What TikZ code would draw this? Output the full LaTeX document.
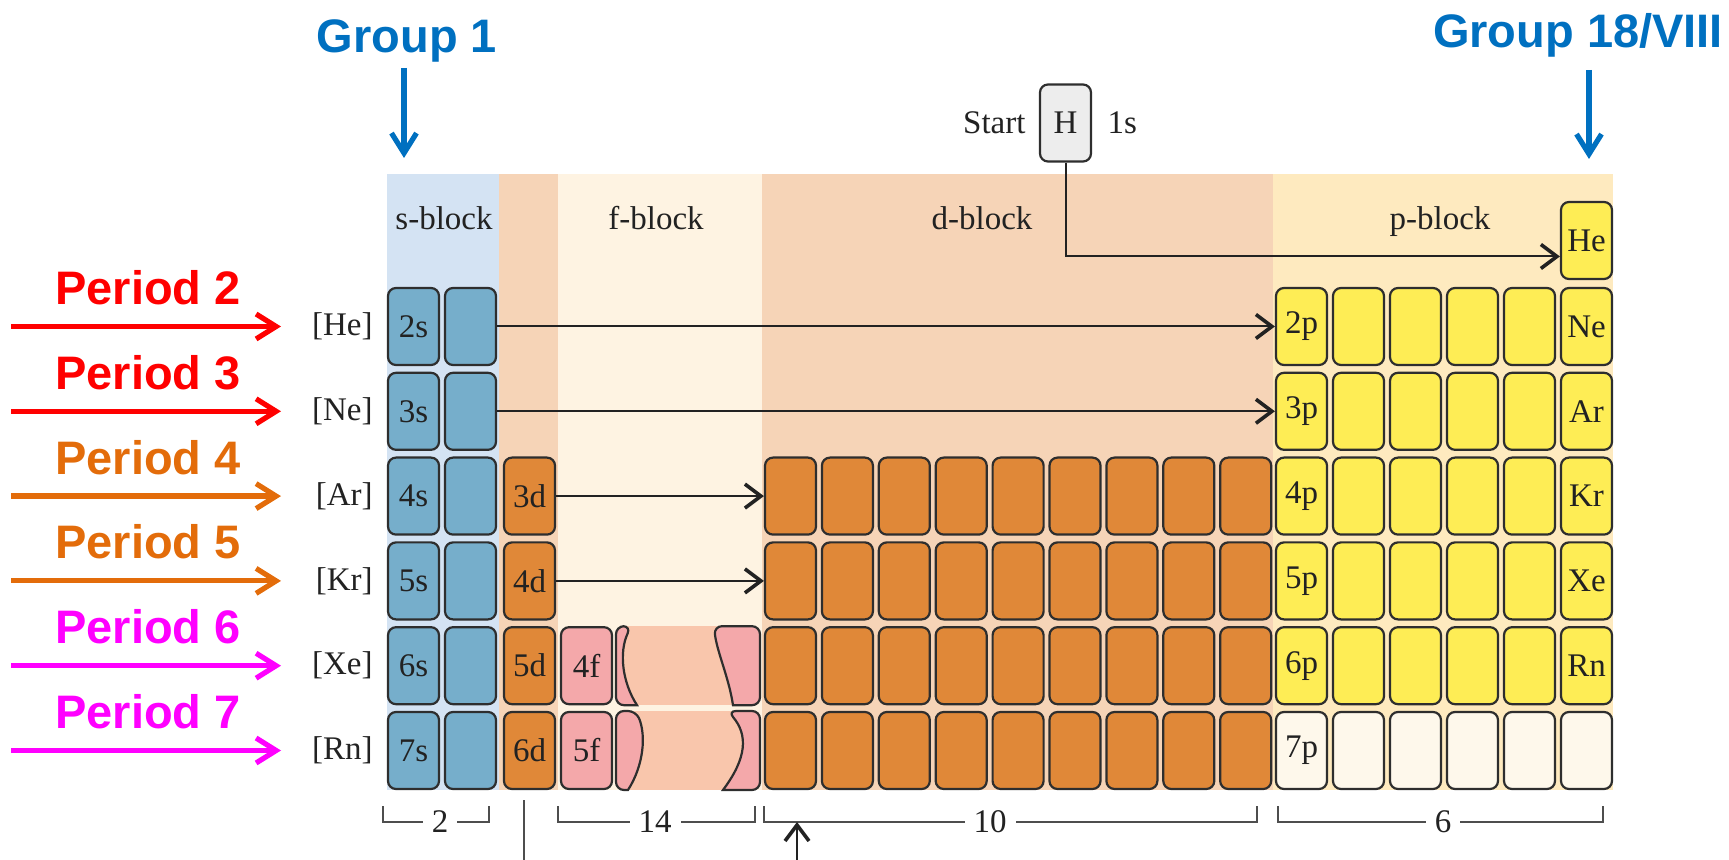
\documentclass[tikz,border=0pt]{standalone}
\usepackage{fontspec}
\setmainfont{Liberation Serif}
\newfontfamily\headfont{Liberation Sans}
\usetikzlibrary{arrows.meta,calc}

\definecolor{sCell}{HTML}{76AECB}
\definecolor{sBack}{HTML}{D4E3F3}
\definecolor{dCell}{HTML}{E08838}
\definecolor{dBack}{HTML}{F6D4B7}
\definecolor{fBack}{HTML}{FEF3E2}
\definecolor{fCell}{HTML}{F4A8AA}
\definecolor{fPeach}{HTML}{F9C6AC}
\definecolor{pCell}{HTML}{FEED55}
\definecolor{pBack}{HTML}{FEEABF}
\definecolor{pEmpty}{HTML}{FEF8EB}
\definecolor{hCell}{HTML}{EDEDED}
\definecolor{edge}{HTML}{2E2E2E}
\definecolor{ink}{HTML}{222222}
\definecolor{groupblue}{HTML}{0070C0}
\definecolor{perred}{HTML}{FF0000}
\definecolor{perorange}{HTML}{E36C0A}
\definecolor{permagenta}{HTML}{FF00FF}

\begin{document}
\begin{tikzpicture}[x=0.5pt,y=-0.5pt,
  cellbox/.style={draw=edge, line width=1.1pt, rounded corners=4pt,
    minimum width=25.5pt, minimum height=38.5pt, inner sep=0pt,
    font=\fontsize{16.5}{19}\selectfont, text=ink},
  scell/.style={cellbox, fill=sCell},
  dcell/.style={cellbox, fill=dCell},
  fcell/.style={cellbox, fill=fCell},
  pcell/.style={cellbox, fill=pCell},
  ecell/.style={cellbox, fill=pEmpty},
  hcell/.style={cellbox, fill=hCell},
  fpiece/.style={draw=edge, line width=1.1pt, fill=fCell},
  serif/.style={font=\fontsize{16.5}{19}\selectfont, text=ink, inner sep=0pt},
  flow/.style={draw=ink, line width=1pt,
    -{Straight Barb[length=8pt,width=12pt,line width=1.8pt]}},
  head/.style={font=\headfont\bfseries\fontsize{23.5}{28}\selectfont, inner sep=0pt},
  bigarrow/.style={line width=2.6pt, -{Straight Barb[length=10pt,width=12.5pt]}},
  bracket/.style={draw=ink!80, line width=0.75pt},
  count/.style={serif, fill=white, inner xsep=4.5pt},
]
\useasboundingbox (0,0) rectangle (1729,860);

% block backgrounds
\fill[sBack] (387,174) rectangle (499,790);
\fill[dBack] (499,174) rectangle (558,790);
\fill[fBack] (558,174) rectangle (762,790);
\fill[dBack] (762,174) rectangle (1273,790);
\fill[pBack] (1273,174) rectangle (1613,790);

% block titles
\node[serif, anchor=base] (sblk) at (444,230) {s-block};
\node[serif, anchor=base] (fblk) at (656,230) {f-block};
\node[serif, anchor=base] (dblk) at (982,230) {d-block};
\node[serif, anchor=base] (pblk) at (1440,230) {p-block};

% hydrogen and helium
\node[hcell] (H) at (1065.5,123) {H};
\node[serif, anchor=east] (start) at ([xshift=-6.5pt]H.west) {Start};
\node[serif, anchor=west] (ones) at ([xshift=7.5pt]H.east) {1s};
\node[pcell] (He) at (1586.5,240.5) {He};

% s-block with noble-gas cores
\foreach \n/\core in {2/He,3/Ne,4/Ar,5/Kr,6/Xe,7/Rn}{
  \pgfmathsetmacro\cy{156.9+84.8*\n}
  \node[serif, anchor=east] (rl\n) at (373,\cy) {[\core]};
  \node[scell] (sa\n) at (413.5,\cy) {\n s};
  \node[scell] (sb\n) at (470.5,\cy) {};
}

% d-block: first column on the left, nine columns after the f-block
\foreach \n in {4,...,7}{
  \pgfmathsetmacro\cy{156.9+84.8*\n}
  \pgfmathtruncatemacro\q{\n-1}
  \node[dcell] (dl\n) at (529.5,\cy) {\q d};
  \foreach \k in {1,...,9}{
    \node[dcell] (d\n-\k) at ({733.6+56.9*\k},\cy) {};
  }
}

% f-block rows, cut short
\foreach \n/\q in {6/4,7/5}{
  \pgfmathsetmacro\cy{156.9+84.8*\n}
  \node[fcell] (f\n) at (586.5,\cy) {\q f};
}
\fill[fPeach] (622,626.2) rectangle (755,705.2);
\fill[fPeach] (622,711) rectangle (755,790);
\path[fpiece] (631,626.2) .. controls (619,652) and (622,682) .. (637,705.2)
  [rounded corners=4pt] -- (616,705.2) -- (616,626.2) -- cycle;
\path[fpiece] (636,711) .. controls (646,735) and (644,765) .. (628,790)
  [rounded corners=4pt] -- (616,790) -- (616,711) -- cycle;
\path[fpiece] (714,626.2) .. controls (717,652) and (729,678) .. (733,705.2)
  [rounded corners=4pt] -- (760,705.2) -- (760,626.2) -- cycle;
\path[fpiece] (728,711) .. controls (748,735) and (747,758) .. (723,790)
  [rounded corners=4pt] -- (760,790) -- (760,711) -- cycle;

% p-block
\foreach \n/\gas in {2/Ne,3/Ar,4/Kr,5/Xe,6/Rn}{
  \pgfmathsetmacro\cy{156.9+84.8*\n}
  \node[pcell] (p\n-1) at (1301.5,\cy) {\n p};
  \foreach \k in {2,...,5}{
    \node[pcell] (p\n-\k) at ({1244.5+57*\k},\cy) {};
  }
  \node[pcell] (p\n-6) at (1586.5,\cy) {\gas};
}
\pgfmathsetmacro\cy{156.9+84.8*7}
\node[ecell] (p7-1) at (1301.5,\cy) {7p};
\foreach \k in {2,...,6}{
  \node[ecell] (p7-\k) at ({1244.5+57*\k},\cy) {};
}

% filling order
\draw[flow] (H.south) |- ([yshift=-8pt]He.west);
\draw[flow] (sb2.east) -- (p2-1.west);
\draw[flow] (sb3.east) -- (p3-1.west);
\draw[flow] (dl4.east) -- (d4-1.west);
\draw[flow] (dl5.east) -- (d5-1.west);

% column counts
\draw[bracket] (383,806) -- (383,822) -- (489,822) -- (489,806);
\node[count] (n2) at (440,822) {2};
\draw[bracket] (558,806) -- (558,822) -- (755,822) -- (755,806);
\node[count] (n14) at (655,822) {14};
\draw[bracket] (764,806) -- (764,822) -- (1257,822) -- (1257,806);
\node[count] (n10) at (990,822) {10};
\draw[bracket] (1278,806) -- (1278,822) -- (1603,822) -- (1603,806);
\node[count] (n6) at (1443,822) {6};
\draw[bracket] (524,800) -- (524,860);
\coordinate (upfoot) at (797,860);
\coordinate (uptip) at (797,822);
\draw[flow] (upfoot) -- (uptip);

% group markers
\node[head, text=groupblue, anchor=base] (g1) at (407,53) {Group 1};
\coordinate (g1top) at (404,68);
\coordinate (g1tip) at (404,158);
\draw[bigarrow, draw=groupblue] (g1top) -- (g1tip);
\node[head, text=groupblue, anchor=base] (g18) at (1578,48) {Group 18/VIII};
\coordinate (g18top) at (1589,70);
\coordinate (g18tip) at (1589,159);
\draw[bigarrow, draw=groupblue] (g18top) -- (g18tip);

% period markers
\foreach \n/\c in {2/perred,3/perred,4/perorange,5/perorange,6/permagenta,7/permagenta}{
  \pgfmathsetmacro\cy{156.9+84.8*\n}
  \node[head, text=\c, anchor=base] (pt\n) at (148,\cy-22) {Period \n};
  \coordinate (pa\n) at (11,\cy);
  \draw[bigarrow, draw=\c] (pa\n) -- ([xshift=-46pt]rl\n.east);
}
\end{tikzpicture}
\end{document}
